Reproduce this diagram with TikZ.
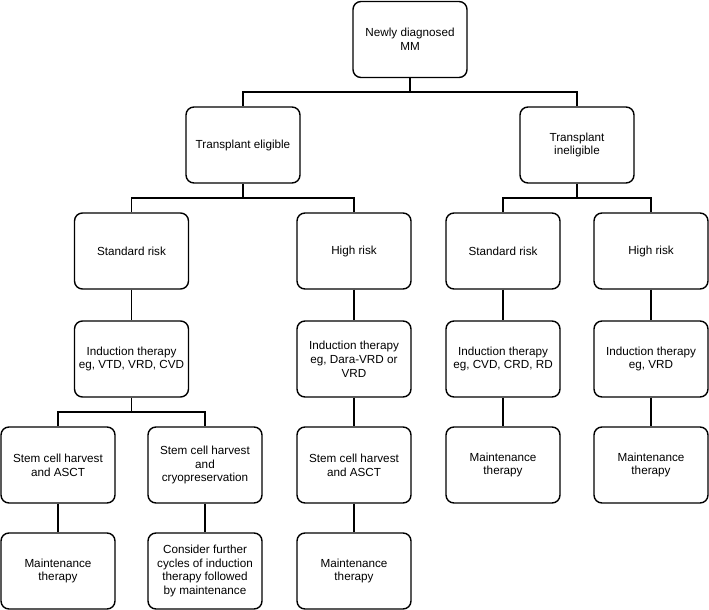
\documentclass[tikz,border=0pt]{standalone}
\usepackage{fontspec}
\setmainfont{Liberation Sans}
\begin{document}
\begin{tikzpicture}[x=1pt,y=-1pt,
  box/.style={draw, line width=1.4pt, rounded corners=8pt, minimum width=114pt,
    minimum height=76pt, align=center, inner sep=2pt,
    font=\fontsize{11.7}{13.8}\selectfont},
  conn/.style={line width=1.3pt}]
\useasboundingbox (0,0) rectangle (709,610);
\node[box] (nd) at (410,39.5) {Newly diagnosed\\MM};
\node[box] (te) at (243,145) {Transplant eligible};
\node[box] (ti) at (577,145) {Transplant\\ineligible};
\node[box] (s1) at (131.5,251) {Standard risk};
\node[box] (h1) at (354,251) {High risk};
\node[box] (s2) at (503,251) {Standard risk};
\node[box] (h2) at (651,251) {High risk};
\node[box] (i1) at (131.5,359) {Induction therapy\\eg, VTD, VRD, CVD};
\node[box] (i2) at (354,359) {Induction therapy\\eg, Dara-VRD or\\VRD};
\node[box] (i3) at (503,359) {Induction therapy\\eg, CVD, CRD, RD};
\node[box] (i4) at (651,359) {Induction therapy\\eg, VRD};
\node[box] (sc1) at (58,465) {Stem cell harvest\\and ASCT};
\node[box] (sc2) at (205,465) {Stem cell harvest\\and\\cryopreservation};
\node[box] (sc3) at (354,465) {Stem cell harvest\\and ASCT};
\node[box] (m3) at (503,465) {Maintenance\\therapy};
\node[box] (m4) at (651,465) {Maintenance\\therapy};
\node[box] (m1) at (58,571) {Maintenance\\therapy};
\node[box] (c2) at (205,571) {Consider further\\cycles of induction\\therapy followed\\by maintenance};
\node[box] (m2) at (354,571) {Maintenance\\therapy};
% connectors
\draw[conn] (nd.south) -- (nd.south |- 0,92) -| (te.north);
\draw[conn] (nd.south |- 0,92) -| (ti.north);
\draw[conn] (te.south) -- (te.south |- 0,198) -| (s1.north);
\draw[conn] (te.south |- 0,198) -| (h1.north);
\draw[conn] (ti.south) -- (ti.south |- 0,198) -| (s2.north);
\draw[conn] (ti.south |- 0,198) -| (h2.north);
\draw[conn] (s1) -- (i1);
\draw[conn] (h1) -- (i2);
\draw[conn] (s2) -- (i3);
\draw[conn] (h2) -- (i4);
\draw[conn] (i1.south) -- (i1.south |- 0,412) -| (sc1.north);
\draw[conn] (i1.south |- 0,412) -| (sc2.north);
\draw[conn] (i2) -- (sc3);
\draw[conn] (i3) -- (m3);
\draw[conn] (i4) -- (m4);
\draw[conn] (sc1) -- (m1);
\draw[conn] (sc2) -- (c2);
\draw[conn] (sc3) -- (m2);
\end{tikzpicture}
\end{document}
